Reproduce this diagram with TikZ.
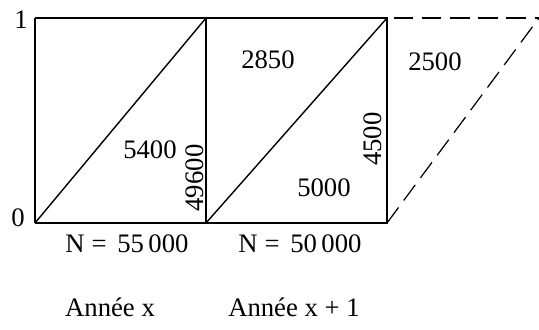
\documentclass[tikz,border=0pt]{standalone}
\usepackage{fontspec}
\setmainfont{Liberation Serif}
\begin{document}
\begin{tikzpicture}[x=0.02cm, y=-0.02cm, font=\fontsize{15.2}{18}\selectfont,
  cadre/.style={line width=1.1pt},
  fin/.style={line width=0.6pt},
  diag/.style={line width=0.8pt},
  tirets/.style={line width=0.7pt, dash pattern=on 11pt off 5pt},
  val/.style={inner sep=0pt}]
\useasboundingbox (0,0) rectangle (539,329);

% sommets des deux carrés
\coordinate (a1) at (35,18);
\coordinate (a0) at (35,223);
\coordinate (b1) at (206,18);
\coordinate (b0) at (206,223);
\coordinate (c1) at (387,18);
\coordinate (c0) at (387,223);
\coordinate (d1) at (539,18);
\coordinate (t1) at (394,18);

% cadres
\draw[cadre] (a1) -- (c1) -- (c0) -- (a0);
\draw[fin] (a0) -- (a1);
\draw[fin] (b1) -- (b0);

% diagonales
\draw[diag] (a0) -- (b1);
\draw[diag] (b0) -- (c1);

% prolongement en tirets
\draw[tirets] (t1) -- (d1);
\draw[tirets] (c0) -- (d1);

% axe
\node[val] (un) at (21,20) {1};
\node[val] (zero) at (18,218) {0};

% effectifs
\node[val] (v5400) at (150,150) {5400};
\node[val, rotate=90] (v49600) at (195,178) {49600};
\node[val] (v2850) at (268,60) {2850};
\node[val, rotate=90] (v4500) at (373,139) {4500};
\node[val] (v5000) at (324,188) {5000};
\node[val] (v2500) at (435,62) {2500};

% légendes
\node[val] (n1) at (127,244) {N\hspace{4pt}=\hspace{6pt}55\,000};
\node[val] (n2) at (300,244) {N\hspace{4pt}=\hspace{6pt}50\,000};
\node[val] (an1) at (110,307) {Année x};
\node[val] (an2) at (294,307) {Année x + 1};

\end{tikzpicture}
\end{document}
